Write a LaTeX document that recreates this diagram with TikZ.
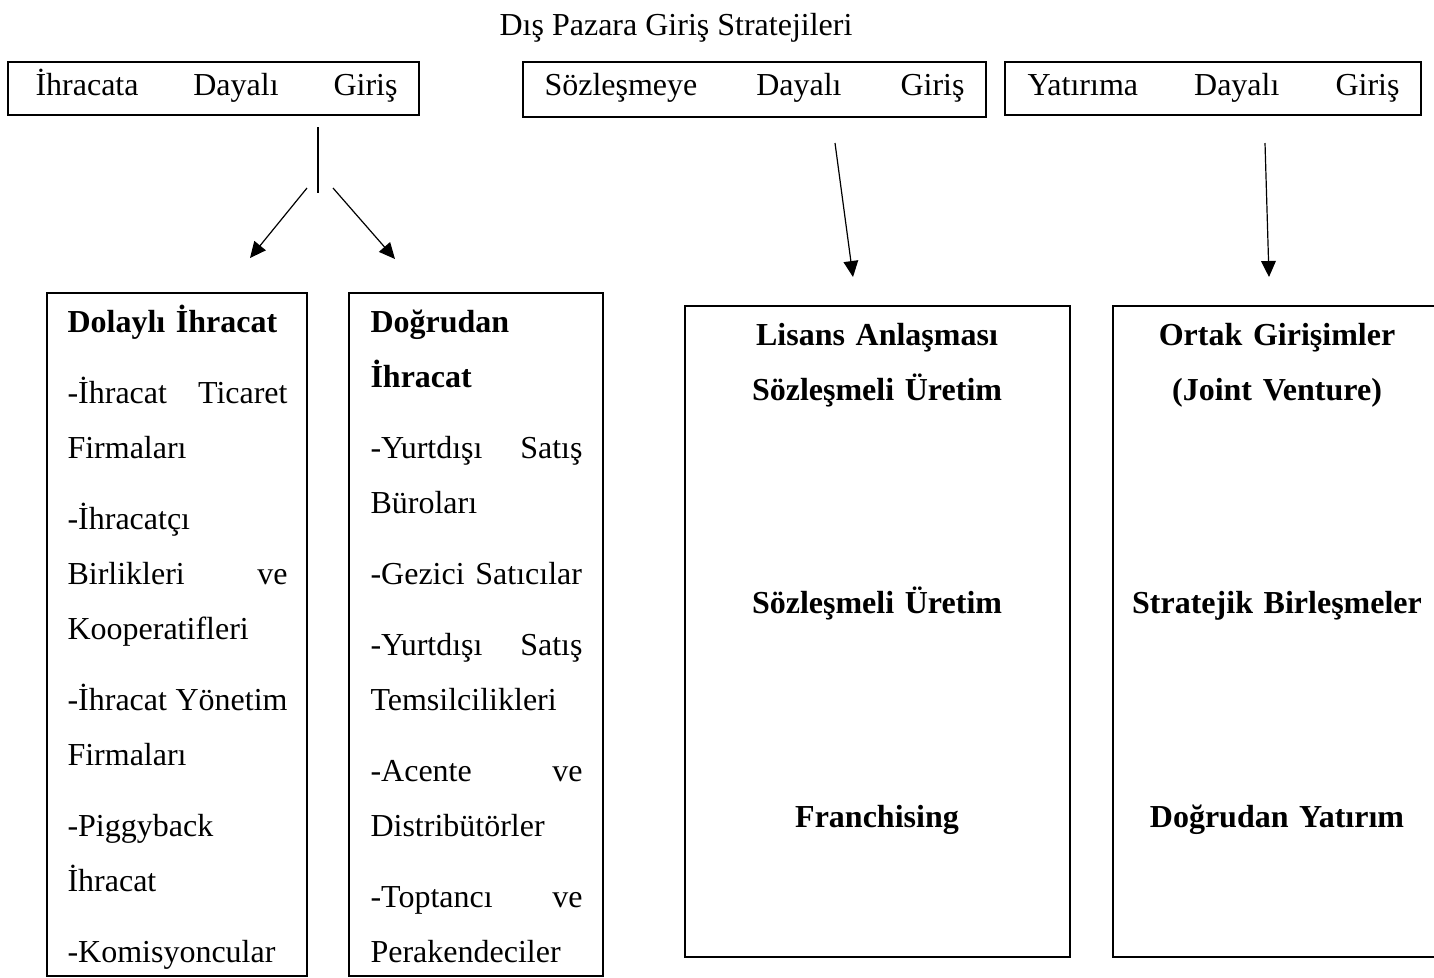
\documentclass[tikz,border=0pt]{standalone}
\usepackage{fontspec}
\setmainfont{Liberation Serif}
\usetikzlibrary{arrows.meta,positioning,calc,fit}

\begin{document}
\begin{tikzpicture}[x=0.375pt,y=-0.375pt, every node/.style={font=\fontsize{12}{20.625}\selectfont}, box/.style={draw,line width=0.6pt,inner sep=0pt}, list/.style={inner sep=0pt,anchor=base west,align=left}, group/.style={inner sep=0pt,anchor=base,align=center,text width=140pt,font=\fontsize{12}{20.625}\selectfont\bfseries}, arr/.style={-{Triangle[length=6pt,width=5.5pt]},line width=0.45pt}]
\useasboundingbox (0,0) rectangle (1434,977);
\node[anchor=base] (title) at (676,35) {Dış Pazara Giriş Stratejileri};
% upper boxes
\node[box,fit={(8,62) (419,115)}] (ihr) {};
\node[box,fit={(523,62) (986,117)}] (soz) {};
\node[box,fit={(1005,62) (1421,115)}] (yat) {};
\node[list,text width=135.75pt] (ihrt) at (35,95) {İhracata\hfill Dayalı\hfill Giriş};
\node[list,text width=157.5pt] (sozt) at (544,95) {Sözleşmeye\hfill Dayalı\hfill Giriş};
\node[list,text width=139.5pt] (yatt) at (1027,95) {Yatırıma\hfill Dayalı\hfill Giriş};
% lower boxes
\node[box,fit={(47,293) (307,976)}] (dol) {};
\node[box,fit={(349,293) (603,976)}] (dog) {};
\node[box,fit={(685,306) (1070,957)}] (lis) {};
\node[box,fit={(1113,306) (1441,957)}] (ort) {};
\node[list,text width=82.5pt] (dolt) at (67,332) {\textbf{Dolaylı İhracat}\\[6pt]
-İhracat\hfill Ticaret\\
Firmaları\\[6pt]
-İhracatçı\\
Birlikleri\hfill ve\\
Kooperatifleri\\[6pt]
-İhracat\hfill Yönetim\\
Firmaları\\[6pt]
-Piggyback\\
İhracat\\[6pt]
-Komisyoncular};
\node[list,text width=79.5pt] (dogt) at (370,332) {\textbf{Doğrudan}\\
\textbf{İhracat}\\[6pt]
-Yurtdışı\hfill Satış\\
Büroları\\[6pt]
-Gezici Satıcılar\\[6pt]
-Yurtdışı\hfill Satış\\
Temsilcilikleri\\[6pt]
-Acente\hfill ve\\
Distribütörler\\[6pt]
-Toptancı\hfill ve\\
Perakendeciler};
\node[group] (list) at (877,345) {Lisans Anlaşması\\
Sözleşmeli Üretim\\[59.6pt]
Sözleşmeli Üretim\\[59.6pt]
Franchising};
\node[group] (ortt) at (1277,345) {Ortak Girişimler\\
(Joint Venture)\\[59.6pt]
Stratejik Birleşmeler\\[59.6pt]
Doğrudan Yatırım};
% connectors
\coordinate (fork) at (318,127);
\coordinate (forkend) at (318,193);
\coordinate (ltail) at (307,188);
\coordinate (rtail) at (333,188);
\coordinate (ltip) at (250,258);
\coordinate (rtip) at (395,259);
\coordinate (stail) at (835,143);
\coordinate (stip) at (853,277);
\coordinate (ytail) at (1265,143);
\coordinate (ytip) at (1269,277);
\draw[line width=0.45pt] (fork) -- (forkend);
\draw[arr] (ltail) -- (ltip);
\draw[arr] (rtail) -- (rtip);
\draw[arr] (stail) -- (stip);
\draw[arr] (ytail) -- (ytip);
\end{tikzpicture}
\end{document}
